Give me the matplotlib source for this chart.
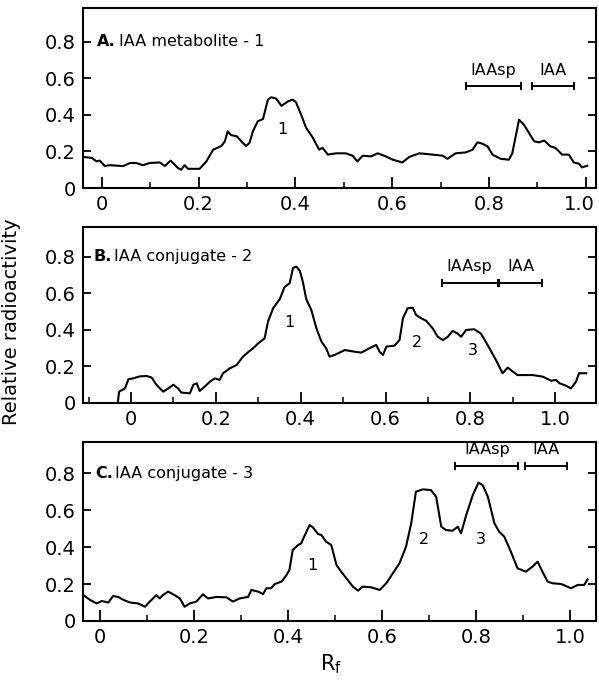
import matplotlib
matplotlib.use("Agg")
import matplotlib.pyplot as plt
import matplotlib.transforms as mtransforms
from matplotlib.ticker import MultipleLocator, FixedLocator

# ---------------- data ----------------
rf_a = [-0.038,-0.021,-0.011,-0.004,0.006,0.016,0.044,0.058,0.071,0.085,
        0.099,0.120,0.130,0.142,0.157,0.164,0.171,0.178,0.202,0.216,
        0.230,0.247,0.254,0.260,0.267,0.279,0.288,0.298,0.305,0.312,
        0.322,0.333,0.343,0.350,0.360,0.371,0.385,0.394,0.401,0.412,
        0.422,0.436,0.449,0.456,0.467,0.484,0.504,0.518,0.528,0.539,
        0.556,0.570,0.587,0.601,0.621,0.635,0.656,0.683,0.704,0.714,
        0.731,0.752,0.766,0.776,0.786,0.797,0.807,0.824,0.841,0.848,
        0.862,0.872,0.883,0.893,0.903,0.914,0.927,0.937,0.951,0.965,
        0.975,0.986,0.992,1.003]
act_a = [0.170,0.165,0.146,0.150,0.120,0.125,0.120,0.137,0.137,0.125,
         0.137,0.140,0.120,0.150,0.110,0.100,0.125,0.105,0.105,0.146,
         0.210,0.230,0.255,0.310,0.290,0.283,0.256,0.230,0.247,0.310,
         0.365,0.378,0.484,0.497,0.490,0.450,0.475,0.484,0.470,0.400,
         0.330,0.275,0.210,0.220,0.183,0.190,0.190,0.177,0.146,0.177,
         0.173,0.190,0.173,0.155,0.140,0.170,0.190,0.183,0.177,0.160,
         0.190,0.195,0.210,0.250,0.243,0.228,0.183,0.160,0.155,0.190,
         0.374,0.347,0.300,0.256,0.250,0.260,0.228,0.220,0.183,0.183,
         0.140,0.133,0.113,0.122]

rf_b = [-0.031,-0.028,-0.014,-0.006,0.005,0.021,0.037,0.049,0.060,0.076,
        0.088,0.100,0.111,0.119,0.139,0.147,0.155,0.162,0.174,0.186,
        0.198,0.209,0.217,0.233,0.249,0.264,0.276,0.288,0.300,0.315,
        0.323,0.335,0.351,0.362,0.374,0.382,0.390,0.398,0.405,0.413,
        0.425,0.437,0.449,0.460,0.468,0.480,0.504,0.527,0.543,0.562,
        0.578,0.586,0.594,0.602,0.621,0.633,0.641,0.652,0.664,0.672,
        0.684,0.696,0.711,0.723,0.735,0.747,0.758,0.770,0.778,0.790,
        0.809,0.825,0.845,0.860,0.876,0.888,0.900,0.911,0.947,0.971,
        0.990,1.002,1.010,1.025,1.037,1.049,1.056,1.073]
act_b = [0.000,0.062,0.080,0.130,0.135,0.146,0.148,0.139,0.100,0.062,
         0.080,0.100,0.080,0.057,0.053,0.100,0.108,0.066,0.090,0.117,
         0.135,0.126,0.163,0.190,0.208,0.254,0.278,0.300,0.327,0.354,
         0.446,0.519,0.570,0.635,0.656,0.740,0.747,0.724,0.665,0.570,
         0.510,0.410,0.336,0.300,0.254,0.263,0.290,0.281,0.276,0.300,
         0.318,0.281,0.263,0.309,0.314,0.345,0.464,0.519,0.522,0.482,
         0.464,0.450,0.409,0.363,0.345,0.363,0.395,0.380,0.363,0.400,
         0.404,0.380,0.300,0.236,0.163,0.194,0.172,0.153,0.153,0.144,
         0.122,0.126,0.108,0.095,0.080,0.117,0.163,0.163]

rf_c = [-0.035,-0.021,-0.007,0.004,0.018,0.028,0.039,0.050,0.064,0.081,
        0.096,0.106,0.120,0.127,0.134,0.145,0.159,0.170,0.180,0.191,
        0.205,0.219,0.230,0.248,0.269,0.283,0.297,0.315,0.322,0.336,
        0.347,0.354,0.364,0.372,0.386,0.396,0.403,0.410,0.421,0.428,
        0.435,0.446,0.453,0.464,0.471,0.481,0.492,0.503,0.513,0.527,
        0.538,0.549,0.559,0.577,0.595,0.609,0.623,0.637,0.651,0.662,
        0.672,0.687,0.704,0.715,0.726,0.736,0.750,0.761,0.768,0.779,
        0.793,0.805,0.814,0.825,0.839,0.849,0.860,0.874,0.888,0.906,
        0.920,0.931,0.941,0.952,0.963,0.981,1.002,1.016,1.030,1.037]
act_c = [0.140,0.114,0.095,0.108,0.100,0.135,0.130,0.114,0.100,0.095,
         0.077,0.105,0.140,0.122,0.140,0.159,0.140,0.122,0.077,0.095,
         0.105,0.144,0.122,0.130,0.128,0.105,0.122,0.130,0.168,0.159,
         0.146,0.177,0.177,0.200,0.213,0.245,0.276,0.384,0.410,0.420,
         0.460,0.519,0.506,0.470,0.465,0.429,0.411,0.303,0.267,0.222,
         0.186,0.164,0.186,0.182,0.168,0.204,0.258,0.312,0.402,0.528,
         0.699,0.712,0.708,0.672,0.510,0.492,0.488,0.510,0.474,0.573,
         0.681,0.748,0.735,0.672,0.528,0.483,0.456,0.375,0.285,0.267,
         0.294,0.321,0.267,0.213,0.204,0.200,0.177,0.195,0.195,0.225]

titles = [("A.", "IAA metabolite - 1"), ("B.", "IAA conjugate - 2"), ("C.", "IAA conjugate - 3")]
peak_labels = [["1"], ["1", "2", "3"], ["1", "2", "3"]]
peak_x = [[0.373], [0.374, 0.673, 0.805], [0.452, 0.690, 0.811]]
peak_y = [[0.32], [0.44, 0.33, 0.29], [0.30, 0.44, 0.44]]
band_names = ["IAAsp", "IAA"]
band_a = [(0.753, 0.866), (0.889, 0.975)]
band_b = [(0.732, 0.864), (0.868, 0.969)]
band_c = [(0.756, 0.890), (0.904, 0.994)]
band_y = [0.56, 0.66, 0.84]
xtick_vals = [0, 0.2, 0.4, 0.6, 0.8, 1.0]
xtick_text = ["0", "0.2", "0.4", "0.6", "0.8", "1.0"]
ytick_vals = [0, 0.2, 0.4, 0.6, 0.8]
ytick_text = ["0", "0.2", "0.4", "0.6", "0.8"]

# ---------------- layout ----------------
W, H = 599, 687
fig = plt.figure(figsize=(W / 100, H / 100), dpi=100)
plt.rcParams['font.family'] = ['DejaVu Sans']

left = 83 / W
width = (596 - 83) / W
panel_px = [(8, 188), (227, 403), (442, 621)]
xlims = [(-0.039, 1.021), (-0.113, 1.096), (-0.036, 1.055)]
ylims = [(0, 0.986), (0, 0.964), (0, 0.968)]
title_x = [-0.010, -0.089, -0.011]

series = [(rf_a, act_a), (rf_b, act_b), (rf_c, act_c)]
bands = [band_a, band_b, band_c]

for i in range(3):
    top, bot = panel_px[i]
    ax = fig.add_axes([left, 1 - bot / H, width, (bot - top) / H])
    x, y = series[i]
    ax.plot(x, y, color='black', lw=1.5, solid_joinstyle='round')
    ax.set_xlim(*xlims[i])
    ax.set_ylim(*ylims[i])
    ax.xaxis.set_major_locator(FixedLocator(xtick_vals))
    ax.set_xticklabels(xtick_text)
    ax.xaxis.set_minor_locator(MultipleLocator(0.1))
    ax.yaxis.set_major_locator(FixedLocator(ytick_vals))
    ax.set_yticklabels(ytick_text)
    ax.tick_params(axis='x', which='major', direction='in', length=8, width=1.3,
                   labelsize=14, pad=5)
    ax.tick_params(axis='x', which='minor', direction='in', length=4, width=1.1)
    ax.tick_params(axis='y', which='major', direction='in', length=6, width=1.3,
                   labelsize=14, pad=5, right=True)
    for s in ax.spines.values():
        s.set_linewidth(1.5)

    if i == 0:
        # keep the last label inside the figure edge
        lab = ax.get_xticklabels()[-1]
        lab.set_transform(lab.get_transform() +
                          mtransforms.ScaledTranslation(-7 / 100, 0, fig.dpi_scale_trans))

    # panel title
    bold, rest = titles[i]
    t = ax.text(title_x[i], 0.8, bold, fontsize=11.5, fontweight='bold', va='center', ha='left')
    ax.annotate(rest, xy=(1, 0.5), xycoords=t, xytext=(2, 0), textcoords='offset points',
                fontsize=11.5, va='center', ha='left')

    # peak labels
    for lab_t, px, py in zip(peak_labels[i], peak_x[i], peak_y[i]):
        ax.text(px, py, lab_t, fontsize=11.5, ha='center', va='center')

    # standard bands
    for name, (x0, x1) in zip(band_names, bands[i]):
        ax.plot([x0, x1], [band_y[i], band_y[i]], color='black', lw=1.4,
                marker='|', markersize=6, markeredgewidth=1.4)
        ax.text((x0 + x1) / 2, band_y[i] + 0.045, name, fontsize=11.5,
                ha='center', va='bottom')

fig.text(12 / W, 1 - 322 / H, "Relative radioactivity", rotation=90,
         fontsize=14, ha='center', va='center')
fig.text(331 / W, 1 - 664 / H, r"R$_{\mathrm{f}}$", fontsize=15, ha='center', va='center')

fig.savefig("out.png", dpi=100)
